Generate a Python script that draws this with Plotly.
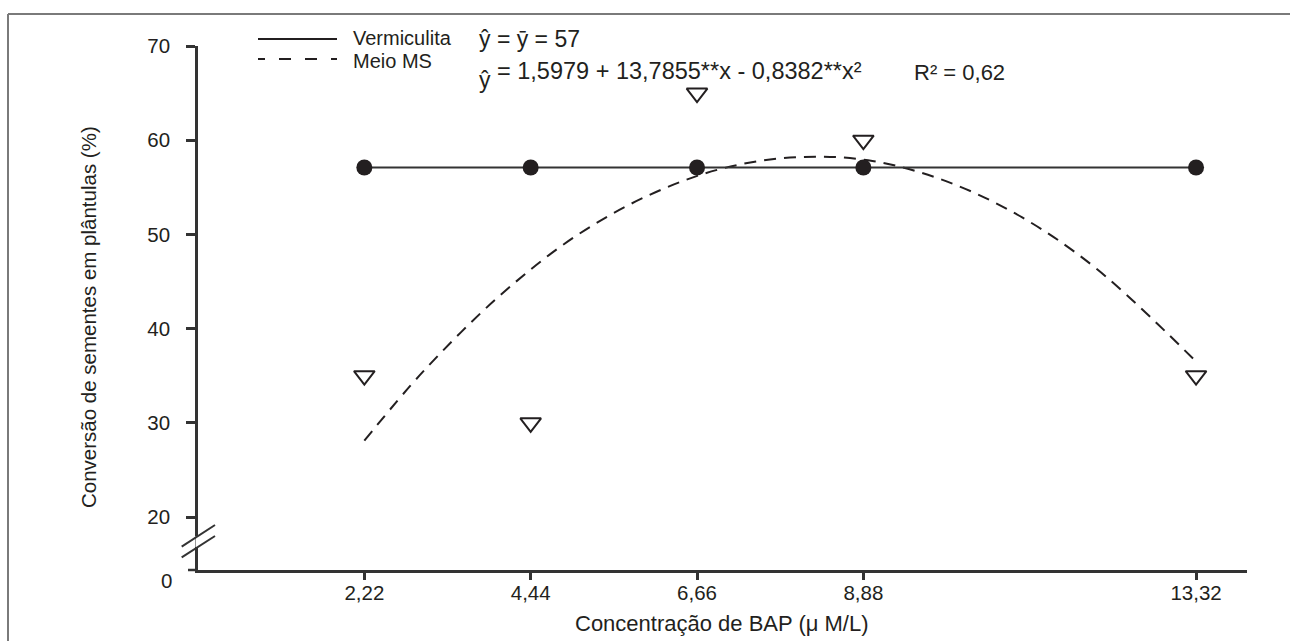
import plotly.graph_objects as go

# ---------------- data ----------------
bap = [2.22, 4.44, 6.66, 8.88, 13.32]
bap_ticktext = ["2,22", "4,44", "6,66", "8,88", "13,32"]

vermiculita = [57.1, 57.1, 57.1, 57.1, 57.1]
meio_ms = [35, 30, 65, 60, 35]

# fitted curve for Meio MS
curve_x = [2.22, 3, 4, 5, 6, 7, 8, 9, 10, 11, 12, 13.32]
curve_y = [28.1, 35.4, 43.3, 49.6, 54.1, 57.0, 58.2, 57.8, 55.6, 51.8, 46.3, 36.5]

y_tickvals = [20, 30, 40, 50, 60, 70]
y_ticktext = ["20", "30", "40", "50", "60", "70"]
y_break_label = "0"

legend_labels = ["Vermiculita", "Meio MS"]
eq1_text = "ŷ = ȳ = 57"
eq2_hat = "ŷ"
eq2_text = "= 1,5979 + 13,7855**x - 0,8382**x²"
r2_text = "R² = 0,62"

x_title = "Concentração de BAP (μ M/L)"
y_title = "Conversão de sementes em plântulas (%)"

# ---------------- styling ----------------
INK = "#231f20"
FONT = "Liberation Sans, Arial, sans-serif"
FS = 20.5

L, R, T, B = 198, 43, 46, 71
W, H = 1290, 641
PW, PH = W - L - R, H - T - B


def px(xp):
    return (xp - L) / PW


def py(yp):
    return (H - B - yp) / PH


fig = go.Figure()

fig.add_trace(go.Scatter(
    x=curve_x, y=curve_y, mode="lines",
    line=dict(color=INK, width=2, dash="12px,8px", shape="spline", smoothing=1),
    showlegend=False, hoverinfo="skip"))

fig.add_trace(go.Scatter(
    x=bap, y=vermiculita, mode="lines+markers",
    line=dict(color="#333333", width=2),
    marker=dict(symbol="circle", size=16, color=INK),
    showlegend=False))

fig.add_trace(go.Scatter(
    x=bap, y=meio_ms, mode="markers",
    marker=dict(symbol="triangle-down-open", size=18, color=INK, line=dict(width=2, color=INK)),
    showlegend=False))

y_bottom = 20 - (H - B - 517) / 9.42

shapes = []
# frame
shapes.append(dict(type="line", xref="paper", yref="paper", x0=px(8), x1=px(1295), y0=py(14), y1=py(14),
                   line=dict(color="#7a7a7a", width=2)))
shapes.append(dict(type="line", xref="paper", yref="paper", x0=px(8), x1=px(8), y0=py(14), y1=py(650),
                   line=dict(color="#7a7a7a", width=2)))
# x-axis overhang to the left
shapes.append(dict(type="line", xref="paper", yref="paper", x0=px(188), x1=0, y0=0, y1=0,
                   line=dict(color="#333333", width=2.5)))
# axis break
shapes.append(dict(type="line", xref="paper", yref="paper", x0=0, x1=0, y0=py(547), y1=py(536),
                   line=dict(color="white", width=5)))
shapes.append(dict(type="line", xref="paper", yref="paper", x0=px(181.7), x1=px(215), y0=py(546.7), y1=py(525),
                   line=dict(color="#333333", width=2)))
shapes.append(dict(type="line", xref="paper", yref="paper", x0=px(181.7), x1=px(215), y0=py(557.3), y1=py(536),
                   line=dict(color="#333333", width=2)))
# legend samples
shapes.append(dict(type="line", xref="paper", yref="paper", x0=px(258), x1=px(337), y0=py(39), y1=py(39),
                   line=dict(color=INK, width=2)))
shapes.append(dict(type="line", xref="paper", yref="paper", x0=px(258), x1=px(337), y0=py(59), y1=py(59),
                   line=dict(color=INK, width=2, dash="7px,14px,12px,14px,12px,14px,7px")))

ann = []


def text(t, x, y, xanchor="left", size=FS, **kw):
    ann.append(dict(text=t, x=px(x), y=py(y), xref="paper", yref="paper", showarrow=False,
                    xanchor=xanchor, yanchor="middle", font=dict(family=FONT, size=size, color=INK),
                    borderpad=0, **kw))


text(legend_labels[0], 352, 37.5, size=20)
text(legend_labels[1], 352, 60.5, size=20)
text(eq1_text, 478, 39, size=23)
text(eq2_hat, 478, 80, size=23)
text(eq2_text, 496, 71, size=23.5)
text(r2_text, 913, 72, size=22)
text(y_break_label, 166, 580, xanchor="center")
text(x_title, 722, 623, xanchor="center", size=22)
text(y_title, 88, 317, xanchor="center", textangle=-90, size=20.5)

fig.update_layout(
    width=W, height=H,
    margin=dict(l=L, r=R, t=T, b=B, pad=0),
    paper_bgcolor="white", plot_bgcolor="white",
    font=dict(family=FONT, size=FS, color=INK),
    shapes=shapes, annotations=ann, showlegend=False,
    xaxis=dict(range=[0, 14], tickvals=bap, ticktext=bap_ticktext,
               showline=True, linecolor="#333333", linewidth=2.5,
               ticks="outside", ticklen=7, tickwidth=2.5, tickcolor="#333333",
               showgrid=False, zeroline=False, ticklabelstandoff=-4,
               tickfont=dict(family=FONT, size=FS, color=INK)),
    yaxis=dict(range=[y_bottom, 70], tickvals=y_tickvals, ticktext=y_ticktext,
               showline=True, linecolor="#333333", linewidth=2.5,
               ticks="outside", ticklen=9, tickwidth=2.5, tickcolor="#333333",
               showgrid=False, zeroline=False, ticklabelstandoff=12,
               tickfont=dict(family=FONT, size=FS, color=INK)),
)

fig.write_html("out.html", config={"displayModeBar": False},
               post_script="document.body.style.margin='0';")
